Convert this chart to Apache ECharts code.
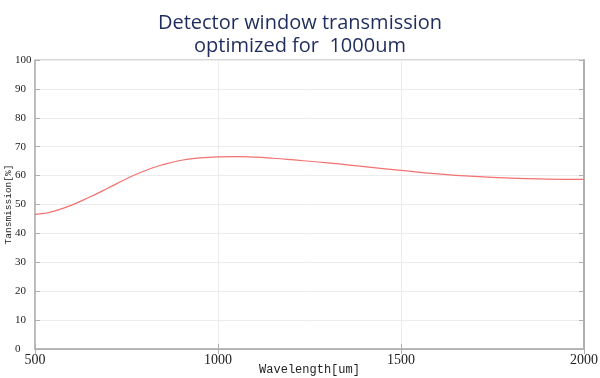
<!DOCTYPE html>
<html><head><meta charset="utf-8">
<script src="https://cdn.jsdelivr.net/npm/echarts@6/dist/echarts.min.js"></script>
<style>html,body{margin:0;padding:0;background:#fff}#c{width:600px;height:378px}</style>
</head><body><div id="c"></div>
<script>
var titleText = "Detector window transmission\noptimized for  1000um";
var xName = "Wavelength[um]";
var yName = "Tansmission[%]";
var wavelengths = [500,525,550,600,650,700,750,800,850,900,950,1000,1050,1100,1150,1200,1300,1400,1500,1600,1700,1800,1900,2000];
var transmission = [46.6,46.9,47.6,49.8,52.6,55.7,58.9,61.7,63.8,65.3,66.1,66.5,66.6,66.4,66.0,65.5,64.4,63.1,61.8,60.6,59.7,59.1,58.8,58.7];

var data = wavelengths.map(function(w,i){return [w, transmission[i]];});
var chart = echarts.init(document.getElementById('c'), null, {renderer:'canvas'});
var axisCol = '#b0b0b0';
chart.setOption({
  animation:false,
  title:{text:titleText,left:'center',top:7,textStyle:{fontFamily:'Open Sans',fontWeight:'normal',fontSize:20,lineHeight:23,color:'#1f2d5c'}},
  grid:{left:35,right:16,top:60,bottom:29,show:true,borderColor:axisCol,borderWidth:1,containLabel:false,outerBoundsMode:'none'},
  xAxis:[{type:'value',min:500,max:2000,interval:500,
    name:xName,nameLocation:'middle',nameGap:15,nameMoveOverlap:false,
    nameTextStyle:{fontFamily:'Liberation Mono',fontSize:12,color:'#222'},
    axisLine:{show:true,lineStyle:{color:axisCol,width:1.5}},
    axisTick:{show:true,inside:true,length:5,lineStyle:{color:axisCol}},
    axisLabel:{fontFamily:'Liberation Serif',fontSize:14,color:'#222',margin:4,formatter:function(v){return String(v);}},
    splitLine:{show:true,lineStyle:{color:'#ececec'}}},
   {type:'value',min:500,max:2000,interval:500,position:'top',
    axisLine:{show:true,lineStyle:{color:axisCol}},
    axisTick:{show:true,inside:true,length:5,lineStyle:{color:axisCol}},
    axisLabel:{show:false},splitLine:{show:false}}],
  yAxis:[{type:'value',min:0,max:100,interval:10,
    name:yName,nameLocation:'middle',nameGap:22,nameRotate:90,nameMoveOverlap:false,
    nameTextStyle:{fontFamily:'Liberation Mono',fontSize:9.5,color:'#222'},
    axisLine:{show:true,lineStyle:{color:axisCol,width:1.5}},
    axisTick:{show:true,inside:true,length:5,lineStyle:{color:axisCol}},
    axisLabel:{fontFamily:'Liberation Serif',fontSize:11,color:'#222',align:'left',margin:20,formatter:function(v){return String(v);}},
    splitLine:{show:true,lineStyle:{color:'#ececec'}}},
   {type:'value',min:0,max:100,interval:10,position:'right',
    axisLine:{show:true,lineStyle:{color:axisCol,width:2}},
    axisTick:{show:true,inside:true,length:5,lineStyle:{color:axisCol}},
    axisLabel:{show:false},splitLine:{show:false}}],
  series:[{type:'line',data:data,smooth:true,showSymbol:false,
    lineStyle:{color:'#f37171',width:1.2}}]
});
</script></body></html>
